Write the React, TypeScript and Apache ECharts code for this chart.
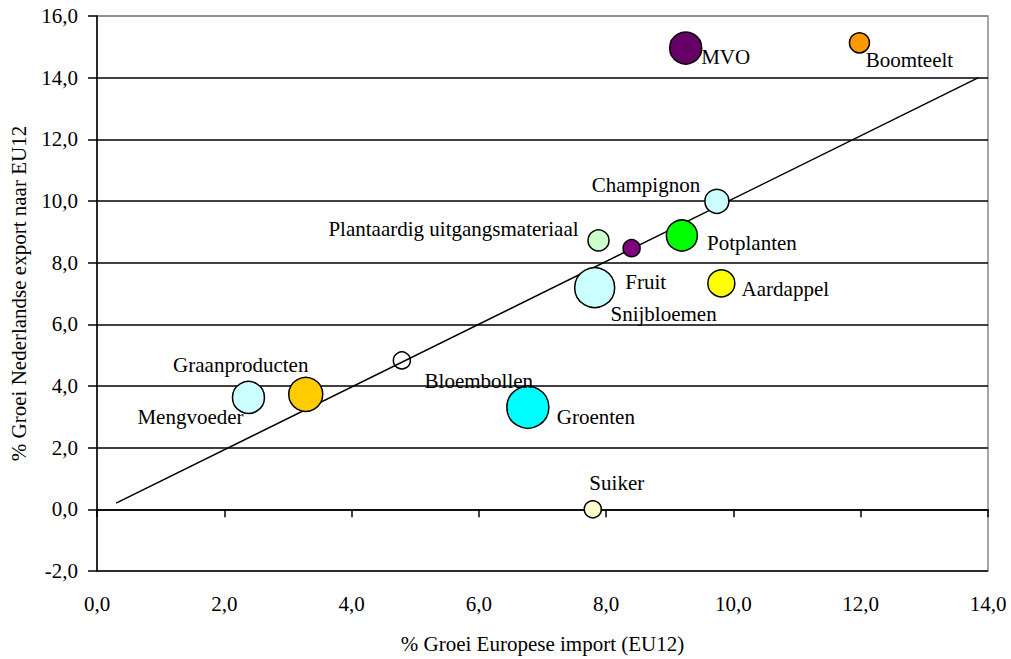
import React, { useEffect, useRef } from "react";
import * as echarts from "echarts";

// Categories (product groups)
const names = [
  "MVO", "Boomteelt", "Champignon", "Plantaardig uitgangsmateriaal", "Snijbloemen",
  "Potplanten", "Fruit", "Aardappel", "Graanproducten", "Mengvoeder",
  "Bloembollen", "Groenten", "Suiker",
];
// % growth European import (EU12)
const importGrowth = [9.25, 11.98, 9.74, 7.88, 8.4, 9.19, 7.82, 9.81, 3.28, 2.38, 4.79, 6.77, 7.79];
// % growth Dutch export to EU12
const exportGrowth = [14.96, 15.13, 9.99, 8.72, 8.47, 8.88, 7.19, 7.33, 3.73, 3.63, 4.83, 3.31, 0.0];
// bubble size value
const bubbleSize = [32, 20, 24, 21, 17, 31, 40, 27, 34, 32, 17, 42, 17];
// trend line
const trendX = [0.3, 13.85];
const trendY = [0.2, 14.0];

const colors = [
  "#660066", "#FF9900", "#CCFFFF", "#CCFFCC", "#800080",
  "#00FF00", "#CCFFFF", "#FFFF00", "#FFCC00", "#CCFFFF",
  "rgba(255,255,255,0)", "#00FFFF", "#FFFFCC",
];
const labelOffsets: number[][] = [
  [40, 9], [50, 17], [-71, -16], [-145, -11], [32, 66],
  [70, 7], [51, -6], [64, 6], [-65, -29], [-58, 20],
  [77, 21], [68, 10], [24, -26],
];

const FONT = "Liberation Serif, Times New Roman, DejaVu Serif, serif";
const fmt = (v: number) => v.toFixed(1).replace(".", ",");

export default function App() {
  const ref = useRef<HTMLDivElement>(null);
  useEffect(() => {
    if (!ref.current) return;
    const chart = echarts.init(ref.current, undefined, { renderer: "svg" });
    const scatterData = names.map((n, i) => ({
      name: n,
      value: [importGrowth[i], exportGrowth[i], bubbleSize[i]],
      itemStyle: { color: colors[i] },
      label: { offset: labelOffsets[i] },
    }));
    const splitColors = ["#000", "#000", "#000", "#000", "#000", "#000", "#000", "#000", "#000", "#888"];
    chart.setOption({
      animation: false,
      textStyle: { fontFamily: FONT },
      grid: {
        left: 96, top: 16, right: 23, bottom: 87,
        show: true, borderColor: "#8a8a8a", borderWidth: 1.5,
      },
      xAxis: {
        type: "value", min: 0, max: 14, interval: 2,
        name: "% Groei Europese import (EU12)",
        nameLocation: "middle", nameGap: 62,
        nameTextStyle: { fontFamily: FONT, fontSize: 21, color: "#000" },
        axisLine: { lineStyle: { color: "#000", width: 1.5 } },
        axisTick: { show: true, length: 8, lineStyle: { color: "#000", width: 1.5 } },
        axisLabel: { formatter: fmt, fontFamily: FONT, fontSize: 21, color: "#000", margin: 22 },
        splitLine: { show: false },
      },
      yAxis: {
        type: "value", min: -2, max: 16, interval: 2,
        name: "% Groei Nederlandse export naar EU12",
        nameLocation: "middle", nameGap: 68,
        nameTextStyle: { fontFamily: FONT, fontSize: 21, color: "#000" },
        axisLine: { lineStyle: { color: "#000", width: 1.5 } },
        axisTick: { show: true, length: 9, lineStyle: { color: "#000", width: 1.5 } },
        axisLabel: { formatter: fmt, fontFamily: FONT, fontSize: 21, color: "#000", margin: 19 },
        splitLine: { show: true, lineStyle: { color: splitColors, width: 1.5 } },
      },
      series: [
        {
          type: "line",
          data: trendX.map((x, i) => [x, trendY[i]]),
          symbol: "none",
          silent: true,
          lineStyle: { color: "#000", width: 1.5 },
          z: 2,
        },
        {
          type: "scatter",
          data: scatterData,
          symbolSize: (val: number[]) => val[2],
          itemStyle: { borderColor: "#000", borderWidth: 1.5, opacity: 1 },
          label: {
            show: true,
            position: "inside",
            formatter: (p: any) => p.name,
            fontFamily: FONT,
            fontSize: 21,
            color: "#000",
            align: "center",
            verticalAlign: "middle",
          },
          z: 3,
        },
      ],
    });
    return () => chart.dispose();
  }, []);
  return (
    <div
      ref={ref}
      style={{ position: "absolute", left: 0, top: 0, width: 1011, height: 659, background: "#fff" }}
    />
  );
}
